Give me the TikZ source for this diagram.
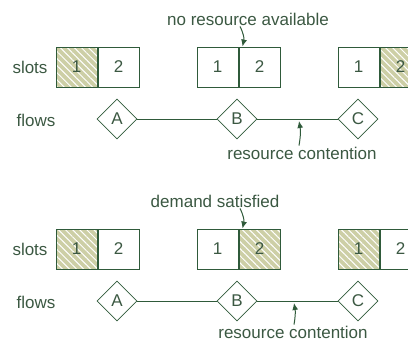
\documentclass[tikz,border=0pt]{standalone}
\usepackage{fontspec}
\setmainfont{Liberation Sans}
\usetikzlibrary{positioning,arrows.meta,shapes.geometric,patterns.meta}
\definecolor{linegreen}{HTML}{2F5A3A}
\definecolor{textgreen}{HTML}{3B5842}
\definecolor{hatchfill}{HTML}{CDCFA6}

\begin{document}
\begin{tikzpicture}[
  x=1pt, y=-1pt,
  every node/.style={text=textgreen, font=\fontsize{17}{19}\selectfont, inner sep=1pt},
  cell/.style={draw=linegreen, line width=1pt, minimum width=41pt, minimum height=40pt, inner sep=0pt},
  busy/.style={cell, preaction={fill=hatchfill},
    pattern={Lines[angle=-45,distance=5pt,line width=1pt]}, pattern color=white},
  flow/.style={draw=linegreen, line width=0.8pt, diamond, aspect=1, minimum size=40pt, inner sep=0pt},
  link/.style={draw=linegreen, line width=0.8pt},
  pointer/.style={draw=linegreen, line width=1pt, -{Latex[length=7pt,width=6pt]}}
]
\path[use as bounding box, clip] (0,0) rectangle (408,341);

% upper case: no resource available
\node (tslots) at (30,67) {slots};
\node (tflows) at (36,120) {flows};

\node[busy] (ta1) at (76.5,67) {1};
\node[cell] (ta2) [right=0pt of ta1] {2};
\node[cell] (tb1) at (217.5,67) {1};
\node[cell] (tb2) [right=0pt of tb1] {2};
\node[cell] (tc1) at (358.5,67) {1};
\node[busy] (tc2) [right=0pt of tc1] {2};

\node[flow] (tfa) at (117,119) {A};
\node[flow] (tfb) at (237,119) {B};
\node[flow] (tfc) at (358,119) {C};
\draw[link] (tfa) -- (tfb);
\draw[link] (tfb) -- (tfc);
\coordinate (tpin) at (299,121);

\node (tnote) at (248,19) {no resource available};
\node (tcont) at (302,153) {resource contention};
\draw[pointer] ([xshift=-8pt]tnote.south) to[bend left=20] ([xshift=4pt]tb2.north west);
\draw[pointer] ([xshift=-3pt]tcont.north) to[bend right=10] (tpin);

% lower case: demand satisfied
\node (bslots) at (30,249) {slots};
\node (bflows) at (36,302) {flows};

\node[busy] (ba1) at (76.5,249) {1};
\node[cell] (ba2) [right=0pt of ba1] {2};
\node[cell] (bb1) at (217.5,249) {1};
\node[busy] (bb2) [right=0pt of bb1] {2};
\node[busy] (bc1) at (358.5,249) {1};
\node[cell] (bc2) [right=0pt of bc1] {2};

\node[flow] (bfa) at (117,301) {A};
\node[flow] (bfb) at (237,301) {B};
\node[flow] (bfc) at (358,301) {C};
\draw[link] (bfa) -- (bfb);
\draw[link] (bfb) -- (bfc);
\coordinate (bpin) at (294,303);

\node (bnote) at (215,201) {demand satisfied};
\node (bcont) at (293,332) {resource contention};
\draw[pointer] ([xshift=25pt]bnote.south) to[bend left=20] ([xshift=4pt]bb2.north west);
\draw[pointer] ([xshift=1pt]bcont.north) to[bend right=10] (bpin);

\end{tikzpicture}
\end{document}
